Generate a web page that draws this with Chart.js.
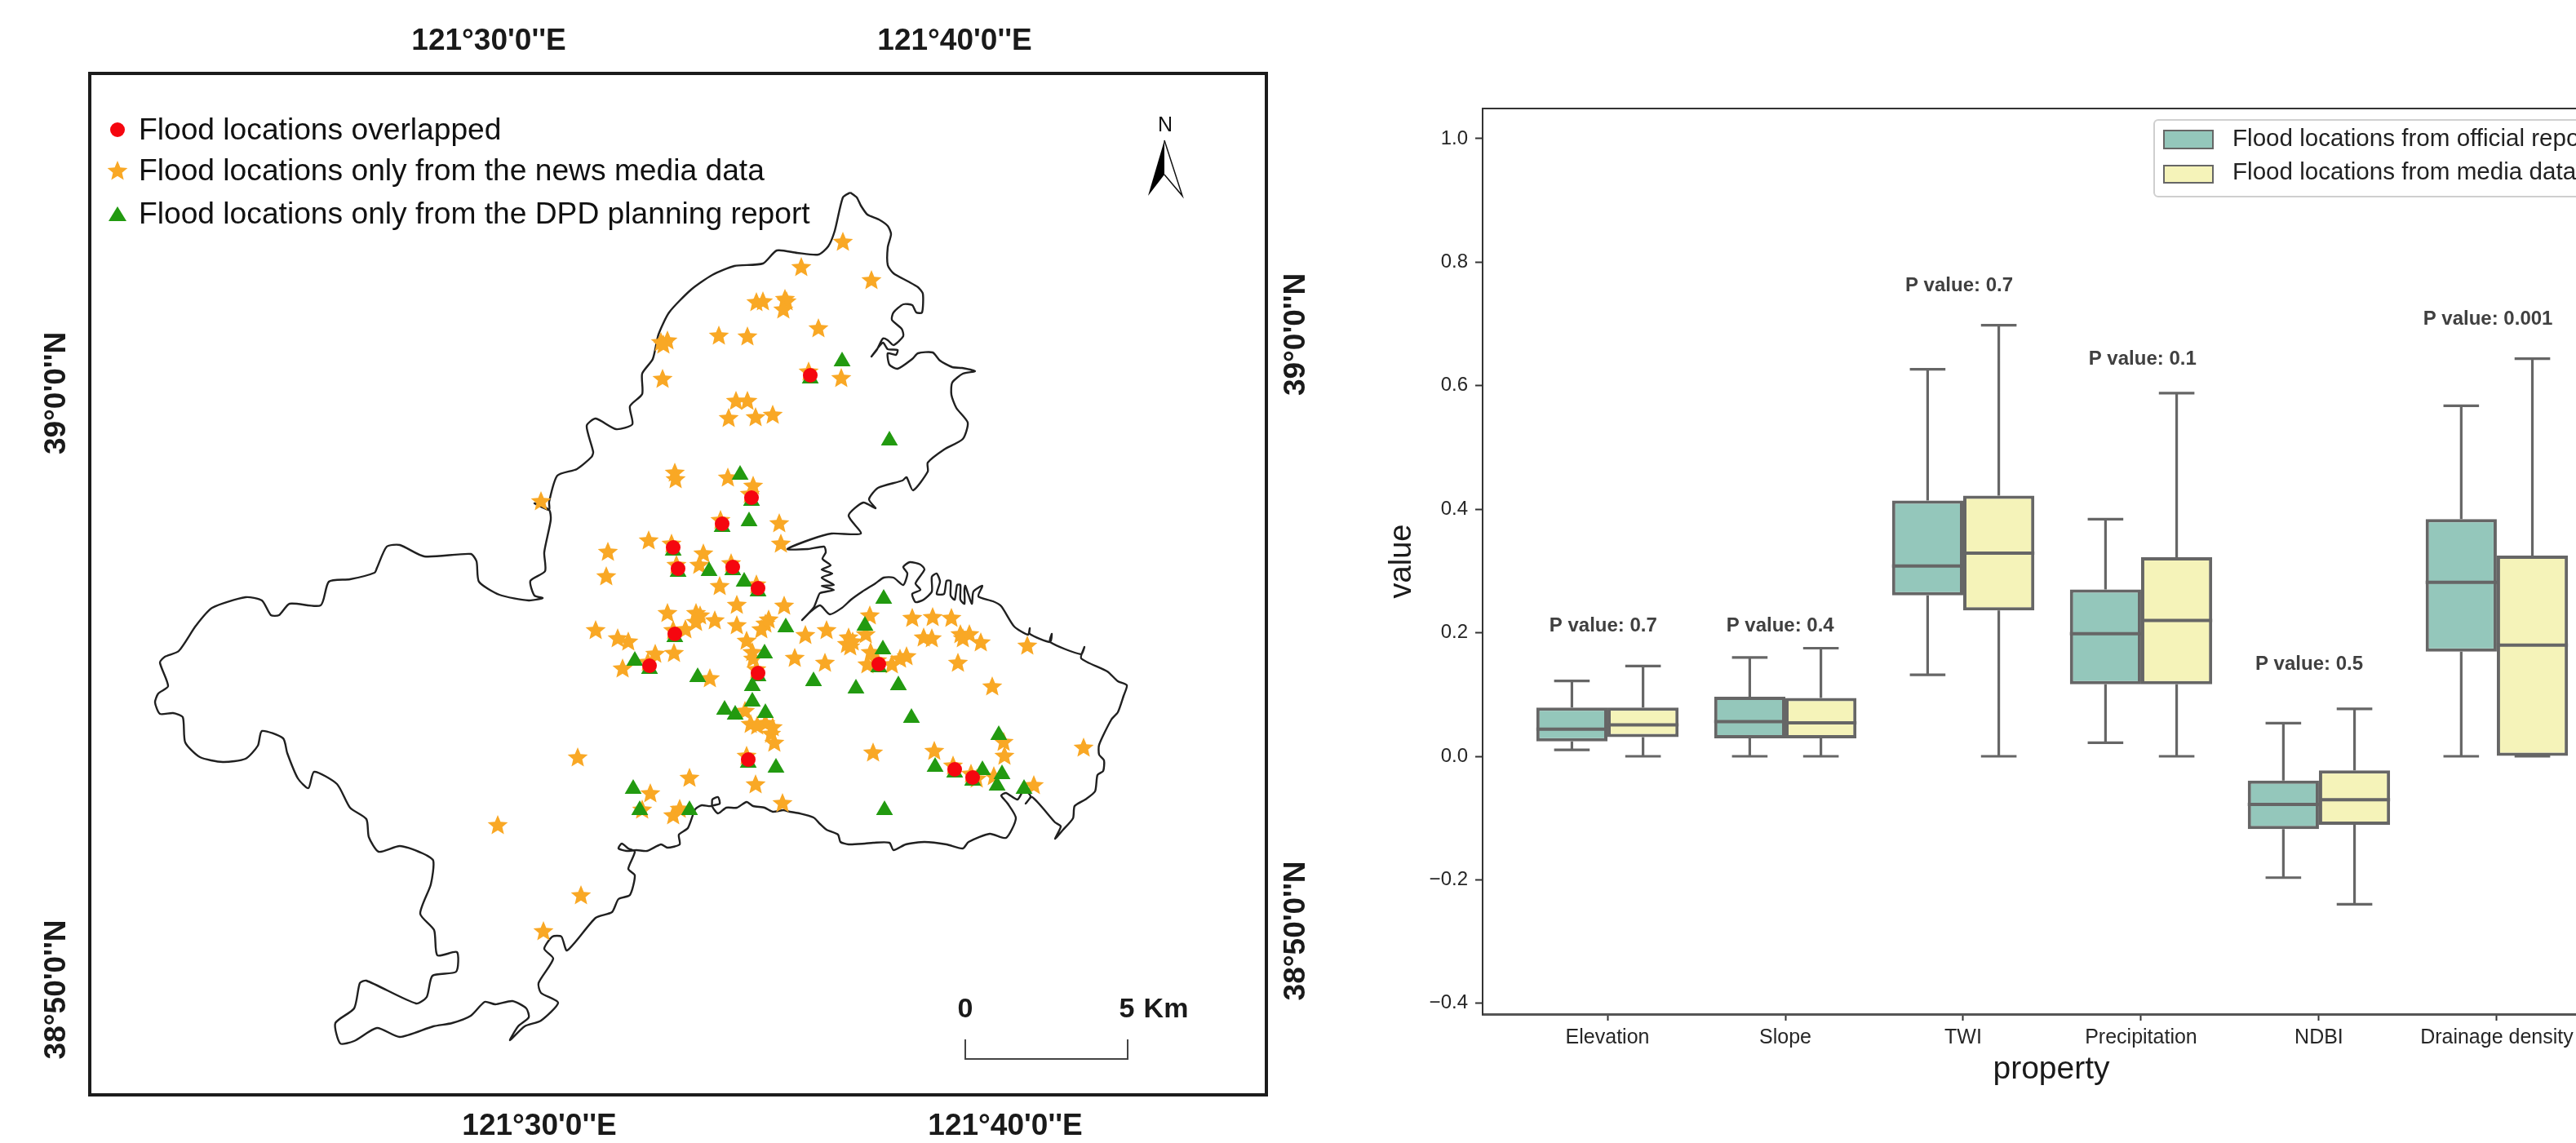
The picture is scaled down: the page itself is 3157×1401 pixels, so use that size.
<!DOCTYPE html>
<html>
<head>
<meta charset="utf-8">
<title>Flood locations map and property box plots</title>
<script src="https://cdn.jsdelivr.net/npm/chart.js@4/dist/chart.umd.min.js"></script>
<style>
html,body{margin:0;padding:0;background:#fff;width:3157px;height:1401px;overflow:hidden}
#stage{position:relative;width:3157px;height:1401px;overflow:hidden;background:#fff}
canvas{position:absolute;top:0;display:block;filter:blur(0.6px)}
#mapCanvas{left:0}
#boxCanvas{left:1640px}
</style>
</head>
<body>
<div id="stage">
<canvas id="mapCanvas" width="1640" height="1401"></canvas>
<canvas id="boxCanvas" width="1575" height="1401"></canvas>
</div>
<script>
/* ---------- MAP DATA: map grid units east / north of the frame's SW corner (200 units = 5 km) ---------- */
const overlapped = [[811,732],[775,700],[715,671],[721,645],[788,647],[819,621],[717,565],[686,526],[819,517],[967,528],[807,411],[1060,399],[1082,389],[883,882]];

const mediaOnly = [[717,762],[718,754],[782,756],[813,746],[845,700],[847,675],[685,679],[635,665],[633,635],[752,663],[747,649],[772,623],[793,600],[851,599],[708,590],[743,590],[748,587],[743,579],[766,581],[793,575],[832,582],[828,577],[823,570],[620,569],[647,559],[660,555],[730,570],[805,556],[877,563],[903,569],[930,560],[928,552],[935,555],[932,549],[951,564],[956,587],[1008,584],[693,540],[716,541],[812,542],[813,534],[864,535],[901,529],[957,542],[953,527],[983,527],[1001,537],[993,534],[653,522],[760,510],[803,470],[810,454],[818,452],[828,455],[837,450],[835,442],[839,431],[960,419],[598,413],[735,388],[816,380],[687,369],[677,349],[849,357],[715,342],[723,350],
[1033,585],[1056,584],[1022,560],[1032,559],[1067,564],[1070,559],[1078,564],[1092,554],[1064,529],[1149,550],[1106,500],[1218,425],[1035,421],[1120,432],[1121,415],[1157,379],[1087,387],[1108,390],
[923,1045],[872,1014],[958,998],[817,971],[825,972],[852,975],[854,972],[850,962],[700,922],[708,924],[703,919],[771,930],[806,929],[893,939],[921,878],[702,877],[792,850],[806,850],[783,829],[816,830],[837,833],
[500,330],[602,244],[556,200],[553,727]];

const dpdOnly = [[797,760],[808,703],[759,642],[802,629],[853,573],[827,541],[668,532],[745,512],[812,501],[812,482],[778,472],[791,466],[828,468],[887,507],[939,498],[991,502],[1007,462],[973,608],[950,575],[972,546],[841,401],[666,375],[674,349],[735,349],[974,349],[1114,441],[1036,402],[1094,398],[1118,393],[1112,379],[1145,375],[922,899],[980,802]];

const coastline = [[932,1106],[940,1100],[945,1090],[953,1079],[967,1073],[978,1065],[982,1055],[978,1039],[978,1017],[985,1007],[1003,997],[1015,990],[1021,982],[1020,959],[1013,959],[1008,968],[997,969],[985,959],[983,950],[995,939],[997,930],[985,919],[978,925],[972,927],[965,914],[958,905],[972,922],[978,914],[990,913],[988,907],[978,909],[980,895],[990,890],[1008,902],[1015,909],[1033,910],[1042,900],[1057,892],[1069,891],[1085,887],[1070,884],[1057,873],[1056,858],[1062,842],[1076,824],[1070,804],[1047,791],[1027,775],[1027,764],[1009,741],[1001,757],[996,753],[966,744],[955,730],[963,719],[948,726],[930,710],[945,688],[909,688],[884,681],[855,669],
[880,669],[900,672],[902,665],[898,657],[908,649],[897,644],[910,639],[897,634],[912,625],[897,624],[912,619],[895,615],[892,609],[887,597],[873,582],[883,592],[895,600],[907,589],[922,597],[933,607],[947,617],[963,627],[973,634],[985,634],[997,625],[1002,639],[997,647],[1005,653],[1018,650],[1023,644],[1012,627],[1018,619],[1008,614],[1012,604],[1022,607],[1032,617],[1032,635],[1038,639],[1042,629],[1038,614],[1047,614],[1050,630],[1055,630],[1055,612],[1060,607],[1063,625],[1067,625],[1067,607],[1072,602],[1072,620],[1073,624],[1081,602],[1083,617],[1094,624],[1089,611],[1107,605],[1117,599],[1133,574],[1150,564],[1152,572],[1152,565],[1177,555],[1179,565],[1177,555],[1215,540],[1219,549],[1215,535],[1247,519],[1260,507],[1271,502],[1267,489],[1260,469],[1252,460],[1237,429],[1237,417],[1243,410],[1242,397],[1235,392],[1232,372],[1220,362],[1207,354],[1205,339],[1192,324],[1183,314],[1190,329],[1183,334],[1155,365],[1147,357],[1153,366],[1145,374],[1137,362],[1123,370],[1117,367],[1125,357],[1135,339],[1123,315],[1103,320],[1077,310],[1070,302],[1050,307],[1023,310],[1000,307],[985,300],[980,309],[960,309],
[950,308],[930,307],[920,310],[917,319],[903,325],[895,332],[887,340],[870,345],[858,347],[850,349],[837,347],[827,352],[813,354],[805,359],[793,352],[780,352],[770,345],[763,354],[772,357],[770,365],[763,362],[762,354],[750,355],[742,350],[733,327],[722,319],[723,307],[708,303],[700,307],[683,299],[670,300],[658,299],[648,302],[652,308],[660,302],[668,298],[660,277],[668,269],[662,245],[648,240],[640,224],[620,217],[585,177],[578,194],[567,194],[557,179],[568,167],[550,137],[553,125],[574,113],[553,91],[533,84],[515,67],[525,84],[538,95],[535,106],[518,115],[497,111],[484,114],[467,97],[444,88],[421,84],[380,71],[352,82],[324,66],[307,63],[301,88],[324,106],[331,137],[339,140],[400,112],[413,120],[420,146],[449,151],[450,175],[426,171],[422,202],[405,222],[418,258],[421,287],[408,296],[380,305],[354,298],[342,316],[339,338],[319,352],[303,381],[275,396],[268,376],[255,388],[242,419],[237,437],[211,446],[206,428],[191,412],[163,408],[135,414],[117,432],[114,463],[102,468],[86,467],[80,481],[84,492],[96,501],[86,530],[92,537],[109,544],[130,575],[150,597],[191,610],[211,606],[222,588],[232,588],[245,602],[283,600],[293,629],[319,632],[349,640],[352,646],[364,672],[380,674],[410,660],[467,663],[474,654],[477,629],[502,613],[538,606],[555,609],[545,612],[540,630],[558,642],[557,665],[565,705],[563,717],[545,725],[563,717],[563,727],[573,759],[597,767],[615,782],[617,788],[609,820],[620,829],[645,816],[665,822],[662,844],[677,859],[677,884],[690,902],[697,932],[710,959],[737,987],[763,1005],[790,1016],[825,1019],[842,1035],[867,1032],[893,1030],[905,1040],[913,1059],[923,1100],[932,1106]];

const scaleBar = [[1073,68],[1073,44],[1272,44],[1272,68]];

const mapLegendLabels = ["Flood locations overlapped","Flood locations only from the news media data","Flood locations only from the DPD planning report"];
const lonLabels = ["121\u00b030'0''E","121\u00b040'0''E"];
const latLabels = ["39\u00b00'0''N","38\u00b050'0''N"];

/* ---------- BOX PLOT DATA ---------- */
const categories = ["Elevation","Slope","TWI","Precipitation","NDBI","Drainage density"];
const officialLow  = [0.0105,0,0.132,0.022,-0.1965,0];
const officialQ1   = [0.024,0.029,0.2605,0.1167,-0.118,0.1693];
const officialMed  = [0.044,0.056,0.308,0.1986,-0.0778,0.2817];
const officialQ3   = [0.079,0.0965,0.414,0.27,-0.0394,0.384];
const officialHigh = [0.122,0.16,0.6265,0.384,0.0536,0.5676];
const mediaLow  = [0,0,0,0,-0.2395,0];
const mediaQ1   = [0.031,0.029,0.236,0.1167,-0.111,0];
const mediaMed  = [0.051,0.054,0.329,0.22,-0.0702,0.18];
const mediaQ3   = [0.079,0.0945,0.422,0.3224,-0.0227,0.3248];
const mediaHigh = [0.146,0.175,0.698,0.588,0.0768,0.6437];
const pValueLabels = ["P value: 0.7","P value: 0.4","P value: 0.7","P value: 0.1","P value: 0.5","P value: 0.001"];
const pValueX = [-0.024,0.971,1.977,3.008,3.945,4.95];
const pValueY = [0.211,0.211,0.762,0.6432,0.1482,0.7073];
const yTickValues = [-0.4,-0.2,0,0.2,0.4,0.6,0.8,1.0];
const yTickLabels = ["\u22120.4","\u22120.2","0.0","0.2","0.4","0.6","0.8","1.0"];
const boxLegendLabels = ["Flood locations from official reports","Flood locations from media data"];

/* ---------- STYLES ---------- */
const FONT = '"Liberation Sans", Arial, sans-serif';
const STAR = '#F9A825', GREEN = '#229A10', RED = '#F5060F';
const TEAL = '#94C7BB', YELLOW = '#F5F3B9', EDGE = '#666666';

function starImage(R, color){
  const c = document.createElement('canvas');
  c.width = c.height = 2*R + 2;
  const g = c.getContext('2d');
  g.fillStyle = color;
  g.beginPath();
  for(let i=0;i<10;i++){
    const r = i%2 ? R*0.45 : R;
    const a = -Math.PI/2 + i*Math.PI/5;
    const x = R+1 + r*Math.cos(a), y = R+1 + r*Math.sin(a);
    i ? g.lineTo(x,y) : g.moveTo(x,y);
  }
  g.closePath(); g.fill();
  return c;
}
const starImg = starImage(13, STAR);
const pts = a => a.map(p => ({x:p[0], y:p[1]}));

function txt(ctx, s, x, y, font, color, align, rot){
  ctx.save();
  ctx.font = font; ctx.fillStyle = color;
  ctx.textAlign = align || 'left'; ctx.textBaseline = 'middle';
  ctx.translate(x,y);
  if(rot) ctx.rotate(rot);
  ctx.fillText(s,0,0);
  ctx.restore();
}

/* ---------- MAP CHART ---------- */
const mapDecor = {
  id:'mapDecor',
  afterDraw(chart){
    const ctx = chart.ctx, a = chart.chartArea;
    ctx.save();
    ctx.strokeStyle = '#1c1c1c'; ctx.lineWidth = 4;
    ctx.strokeRect(a.left, a.top, a.right-a.left, a.bottom-a.top);
    // legend
    const f = '37.2px '+FONT;
    ctx.fillStyle = RED; ctx.beginPath(); ctx.arc(144,159,9,0,Math.PI*2); ctx.fill();
    ctx.drawImage(starImg, 144-starImg.width/2, 210-starImg.height/2);
    ctx.fillStyle = GREEN; ctx.beginPath(); ctx.moveTo(144,253); ctx.lineTo(133,271); ctx.lineTo(155,271); ctx.closePath(); ctx.fill();
    txt(ctx,mapLegendLabels[0],170,161,f,'#111');
    txt(ctx,mapLegendLabels[1],170,211,f,'#111');
    txt(ctx,mapLegendLabels[2],170,264,f,'#111');
    // graticule labels
    const b = 'bold 37px '+FONT;
    txt(ctx,lonLabels[0],599,51,b,'#1a1a1a','center');
    txt(ctx,lonLabels[1],1170,51,b,'#1a1a1a','center');
    txt(ctx,lonLabels[0],661,1381,b,'#1a1a1a','center');
    txt(ctx,lonLabels[1],1232,1381,b,'#1a1a1a','center');
    txt(ctx,latLabels[0],70,482,b,'#1a1a1a','center',-Math.PI/2);
    txt(ctx,latLabels[1],70,1213,b,'#1a1a1a','center',-Math.PI/2);
    txt(ctx,latLabels[0],1589,410,b,'#1a1a1a','center',-Math.PI/2);
    txt(ctx,latLabels[1],1589,1141,b,'#1a1a1a','center',-Math.PI/2);
    // north arrow
    txt(ctx,'N',1428,154,'25px '+FONT,'#111','center');
    ctx.fillStyle='#000'; ctx.beginPath(); ctx.moveTo(1427,172); ctx.lineTo(1407,240); ctx.lineTo(1427,214); ctx.closePath(); ctx.fill();
    ctx.strokeStyle='#111'; ctx.lineWidth=1.5; ctx.beginPath(); ctx.moveTo(1427,172); ctx.lineTo(1449,240); ctx.lineTo(1427,214); ctx.stroke();
    // scale bar text
    const s = 'bold 34px '+FONT;
    txt(ctx,'0',1183,1238,s,'#1a1a1a','center');
    txt(ctx,'5',1381,1238,s,'#1a1a1a','center');
    txt(ctx,'Km',1429,1238,s,'#1a1a1a','center');
    ctx.restore();
  }
};

new Chart(document.getElementById('mapCanvas'), {
  type:'scatter',
  data:{datasets:[
    {label:mapLegendLabels[0], data:pts(overlapped), pointStyle:'circle', pointRadius:9, pointBackgroundColor:RED, pointBorderWidth:0, order:1},
    {label:'DPD marker under overlapped', data:overlapped.map(p=>({x:p[0],y:p[1]-4})), pointStyle:'triangle', pointRadius:12, pointBackgroundColor:GREEN, pointBorderWidth:0, order:2},
    {label:mapLegendLabels[2], data:pts(dpdOnly), pointStyle:'triangle', pointRadius:12, pointBackgroundColor:GREEN, pointBorderWidth:0, order:3},
    {label:'Media marker under overlapped', data:overlapped.map(p=>({x:p[0]-2,y:p[1]+4})), pointStyle:starImg, pointRadius:10, order:4},
    {label:mapLegendLabels[1], data:pts(mediaOnly), pointStyle:starImg, pointRadius:10, order:5},
    {label:'Coastline', data:pts(coastline), showLine:true, pointRadius:0, borderColor:'#202020', borderWidth:2.4, tension:0.22, order:6, borderJoinStyle:'round'},
    {label:'Scale bar', data:pts(scaleBar), showLine:true, pointRadius:0, borderColor:'#444', borderWidth:2, tension:0, order:7}
  ]},
  options:{
    responsive:false, animation:false, devicePixelRatio:1,
    layout:{padding:{left:110,top:90,right:88,bottom:59}},
    plugins:{legend:{display:false},tooltip:{enabled:false}},
    scales:{
      x:{type:'linear',min:0,max:1442,display:false},
      y:{type:'linear',min:0,max:1252,display:false}
    }
  },
  plugins:[mapDecor]
});

/* ---------- BOX PLOT CHART ---------- */
const SHIFT = 0.2, CAP = 0.1;
function whiskerPts(off, lo, q1, q3, hi){
  const out = [];
  categories.forEach((_,i)=>{
    const x = i+off;
    out.push({x,y:q3[i]},{x,y:hi[i]},{x:null,y:null},
             {x:x-CAP,y:hi[i]},{x:x+CAP,y:hi[i]},{x:null,y:null},
             {x,y:q1[i]},{x,y:lo[i]},{x:null,y:null},
             {x:x-CAP,y:lo[i]},{x:x+CAP,y:lo[i]},{x:null,y:null});
  });
  return out;
}
function medianPts(off, med){
  const out = [];
  categories.forEach((_,i)=>{
    out.push({x:i+off-SHIFT,y:med[i]},{x:i+off+SHIFT,y:med[i]},{x:null,y:null});
  });
  return out;
}
const boxDecor = {
  id:'boxDecor',
  afterDatasetsDraw(chart){
    const ctx = chart.ctx, a = chart.chartArea, sx = chart.scales.x, sy = chart.scales.y;
    ctx.save();
    // top spine
    ctx.strokeStyle='#333'; ctx.lineWidth=2;
    ctx.beginPath(); ctx.moveTo(a.left,a.top); ctx.lineTo(a.right,a.top); ctx.stroke();
    // p value annotations
    pValueLabels.forEach((s,i)=>{
      txt(ctx,s,sx.getPixelForValue(pValueX[i]),sy.getPixelForValue(pValueY[i]),'bold 24px '+FONT,'#404040','center');
    });
    // legend (runs past the cropped right edge, as in the picture)
    const L = 1000, T = 147, B = 241, R = 1570;
    ctx.fillStyle='rgba(255,255,255,0.8)'; ctx.strokeStyle='#cfcfcf'; ctx.lineWidth=2;
    ctx.beginPath(); ctx.roundRect(L,T,R-L,B-T,5); ctx.fill(); ctx.stroke();
    ctx.strokeStyle=EDGE; ctx.lineWidth=2;
    ctx.fillStyle=TEAL; ctx.fillRect(1012,160,60,22); ctx.strokeRect(1012,160,60,22);
    ctx.fillStyle=YELLOW; ctx.fillRect(1012,203,60,21); ctx.strokeRect(1012,203,60,21);
    txt(ctx,boxLegendLabels[0],1096,171,'29.6px '+FONT,'#222');
    txt(ctx,boxLegendLabels[1],1096,212,'29.6px '+FONT,'#222');
    ctx.restore();
  }
};

new Chart(document.getElementById('boxCanvas'), {
  type:'bar',
  data:{datasets:[
    {type:'scatter',label:'official medians',data:medianPts(-SHIFT,officialMed),showLine:true,spanGaps:false,pointRadius:0,borderColor:EDGE,borderWidth:4,order:1},
    {type:'scatter',label:'media medians',data:medianPts(SHIFT,mediaMed),showLine:true,spanGaps:false,pointRadius:0,borderColor:EDGE,borderWidth:4,order:1},
    {label:boxLegendLabels[0],data:categories.map((_,i)=>({x:i,y:[officialQ1[i],officialQ3[i]]})),backgroundColor:TEAL,borderColor:EDGE,borderWidth:4,borderSkipped:false,inflateAmount:0,categoryPercentage:0.8,barPercentage:1,order:2},
    {label:boxLegendLabels[1],data:categories.map((_,i)=>({x:i,y:[mediaQ1[i],mediaQ3[i]]})),backgroundColor:YELLOW,borderColor:EDGE,borderWidth:4,borderSkipped:false,inflateAmount:0,categoryPercentage:0.8,barPercentage:1,order:3},
    {type:'scatter',label:'official whiskers',data:whiskerPts(-SHIFT,officialLow,officialQ1,officialQ3,officialHigh),showLine:true,spanGaps:false,pointRadius:0,borderColor:EDGE,borderWidth:3.2,order:4},
    {type:'scatter',label:'media whiskers',data:whiskerPts(SHIFT,mediaLow,mediaQ1,mediaQ3,mediaHigh),showLine:true,spanGaps:false,pointRadius:0,borderColor:EDGE,borderWidth:3.2,order:4}
  ]},
  options:{
    responsive:false, animation:false, devicePixelRatio:1,
    layout:{padding:{top:133,left:0,right:4,bottom:0}},
    plugins:{legend:{display:false},tooltip:{enabled:false}},
    scales:{
      x:{
        type:'linear', offset:false, min:-0.702, max:5.693,
        afterBuildTicks:s=>{ s.ticks = categories.map((_,i)=>({value:i})); },
        afterFit:s=>{ s.height = 158; },
        ticks:{autoSkip:false,maxRotation:0,minRotation:0,padding:6,color:'#262626',font:{family:FONT,size:25},callback:v=>categories[v]},
        grid:{offset:false,drawOnChartArea:false,drawTicks:true,tickLength:8,tickWidth:2,tickColor:'#333'},
        border:{display:true,color:'#555',width:3},
        title:{display:true,text:'property',color:'#1a1a1a',font:{family:FONT,size:39,lineHeight:1},padding:{top:0,bottom:70}}
      },
      y:{
        type:'linear', min:-0.4174, max:1.0488,
        afterBuildTicks:s=>{ s.ticks = yTickValues.map(v=>({value:v})); },
        afterFit:s=>{ s.width = 177; },
        ticks:{padding:9,color:'#262626',font:{family:FONT,size:24},callback:v=>yTickLabels[yTickValues.findIndex(t=>Math.abs(t-v)<1e-6)]},
        grid:{drawOnChartArea:false,drawTicks:true,tickLength:9,tickWidth:2,tickColor:'#333'},
        border:{display:true,color:'#333',width:2},
        title:{display:true,text:'value',color:'#1a1a1a',font:{family:FONT,size:38,lineHeight:1},padding:{top:60,bottom:0}}
      }
    }
  },
  plugins:[boxDecor]
});
</script>
</body>
</html>
